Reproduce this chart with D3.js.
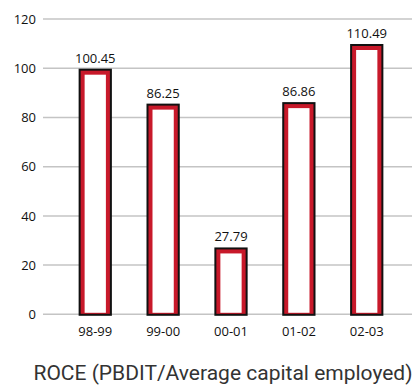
<!DOCTYPE html>
<html>
<head>
<meta charset="utf-8">
<script src="https://cdn.jsdelivr.net/npm/d3@7"></script>
<style>
  html, body { margin: 0; padding: 0; background: #fff; }
  svg { display: block; }
  text { font-family: "Open Sans", "DejaVu Sans", sans-serif; fill: #111; }
</style>
</head>
<body>
<svg id="chart" width="412" height="388"></svg>
<script>
// Return on capital employed by financial year
const years = ["98-99", "99-00", "00-01", "01-02", "02-03"];
const roce = [100.45, 86.25, 27.79, 86.86, 110.49];
const yTicks = [0, 20, 40, 60, 80, 100, 120];
const title = "ROCE (PBDIT/Average capital employed)";

const svg = d3.select("#chart");

const y = d3.scaleLinear().domain([0, 120]).range([314.3, 19.1]);
const x = d3.scaleBand().domain(years).range([62, 400])
  .paddingInner(0.51).paddingOuter(0.245);

// Horizontal gridlines
svg.append("g").selectAll("line").data(yTicks).join("line")
  .attr("x1", 43).attr("x2", 412)
  .attr("y1", d => y(d)).attr("y2", d => y(d))
  .attr("stroke", "#c4c4c4").attr("stroke-width", 1.5);

// Y axis labels
const yAxis = d3.axisLeft(y).tickValues(yTicks).tickSize(0).tickPadding(0);
svg.append("g").attr("transform", "translate(36,0)").call(yAxis)
  .call(g => g.select(".domain").remove())
  .call(g => g.selectAll("text").attr("font-size", 13).attr("fill", "#111")
    .style("font-family", "'Open Sans', sans-serif"));

// X axis labels
const xAxis = d3.axisBottom(x).tickSize(0).tickPadding(0);
svg.append("g").attr("transform", "translate(0,327)").call(xAxis)
  .call(g => g.select(".domain").remove())
  .call(g => g.selectAll("text").attr("font-size", 13).attr("fill", "#111")
    .style("font-family", "'Open Sans', sans-serif"));

// Bars: black outline, red band, white core (drawn slightly offset down)
const bars = svg.append("g").attr("transform", "translate(0,1.5)")
  .selectAll("g").data(years).join("g");
bars.append("rect")
  .attr("x", d => x(d))
  .attr("y", (d, i) => y(roce[i]))
  .attr("width", x.bandwidth())
  .attr("height", (d, i) => y(0) - y(roce[i]))
  .attr("fill", "#111");
bars.append("rect")
  .attr("x", d => x(d) + 2)
  .attr("y", (d, i) => y(roce[i]) + 2)
  .attr("width", x.bandwidth() - 4)
  .attr("height", (d, i) => y(0) - y(roce[i]) - 4)
  .attr("fill", "#c8192a");
bars.append("rect")
  .attr("x", d => x(d) + 6)
  .attr("y", (d, i) => y(roce[i]) + 6)
  .attr("width", x.bandwidth() - 12)
  .attr("height", (d, i) => y(0) - y(roce[i]) - 9)
  .attr("fill", "#fff");

// Value labels
svg.append("g").selectAll("text").data(years).join("text")
  .attr("x", d => x(d) + x.bandwidth() / 2)
  .attr("y", (d, i) => y(roce[i]) - 4.5)
  .attr("text-anchor", "middle")
  .attr("font-size", 13)
  .text((d, i) => roce[i].toFixed(2));

// Caption
svg.append("text")
  .attr("x", 223).attr("y", 380)
  .attr("text-anchor", "middle")
  .attr("font-size", 21)
  .style("font-family", "Roboto, sans-serif")
  .style("fill", "#333")
  .text(title);
</script>
</body>
</html>
